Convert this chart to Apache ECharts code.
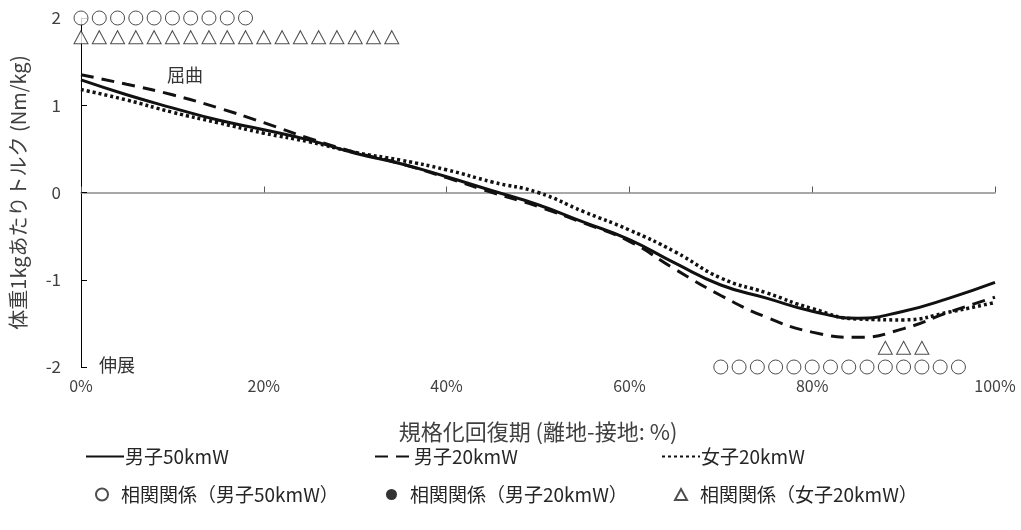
<!DOCTYPE html>
<html>
<head>
<meta charset="utf-8">
<title>規格化回復期トルク</title>
<script src="https://cdn.jsdelivr.net/npm/echarts@6/dist/echarts.min.js"></script>
<style>
  html, body { margin: 0; padding: 0; background: #fff; }
  #main { width: 1021px; height: 530px; }
</style>
</head>
<body>
<div id="main"></div>
<script>
// 規格化回復期 (%)
var phase = [0, 5, 10, 15, 20, 25, 30, 35, 40, 45, 50, 55, 60, 65, 70, 75, 80, 85, 90, 95, 100];
var male50 = [1.29, 1.12, 0.97, 0.83, 0.72, 0.60, 0.45, 0.33, 0.18, 0.02, -0.14, -0.34, -0.54, -0.81, -1.06, -1.21, -1.36, -1.44, -1.36, -1.21, -1.03];
var male20 = [1.35, 1.24, 1.12, 0.97, 0.80, 0.62, 0.46, 0.33, 0.17, 0.00, -0.16, -0.35, -0.56, -0.88, -1.18, -1.43, -1.60, -1.66, -1.56, -1.37, -1.20];
var female20 = [1.18, 1.06, 0.92, 0.80, 0.68, 0.58, 0.46, 0.37, 0.26, 0.12, 0.00, -0.22, -0.43, -0.68, -0.98, -1.15, -1.33, -1.45, -1.46, -1.37, -1.26];

// 相関関係の有意区間 (○: 男子50kmW, △: 女子20kmW)
var circleTop = [0, 2, 4, 6, 8, 10, 12, 14, 16, 18];
var circleBottom = [70, 72, 74, 76, 78, 80, 82, 84, 86, 88, 90, 92, 94, 96];
var triTop = [0, 2, 4, 6, 8, 10, 12, 14, 16, 18, 20, 22, 24, 26, 28, 30, 32, 34];
var triBottom = [88, 90, 92];
var circleTopY = 2, circleBottomY = -2;
var triTopY = 1.78, triBottomY = -1.78;

var xTicks = [0, 20, 40, 60, 80, 100];
var yTicks = [-2, -1, 0, 1, 2];

var FONT = '"Noto Sans CJK JP", "Noto Sans", sans-serif';

function pairs(xs, ys) {
  return xs.map(function (x, i) { return [x, ys[i]]; });
}
function row(xs, y) {
  return xs.map(function (x) { return [x, y]; });
}

var chartDom = document.getElementById('main');
var myChart = echarts.init(chartDom, null, { renderer: 'canvas' });
var option;

function lineLegend(name, left) {
  return {
    data: [name],
    left: left,
    top: 447,
    padding: 0,
    itemWidth: 38,
    itemHeight: 14,
    selectedMode: false,
    itemStyle: { opacity: 0 },
    textStyle: { fontFamily: FONT, fontSize: 19, color: '#262626', padding: [0, 0, 0, -4] }
  };
}
function markLegend(name, left, w, h) {
  return {
    data: [name],
    left: left,
    top: 485,
    padding: 0,
    itemWidth: w,
    itemHeight: h,
    selectedMode: false,
    textStyle: { fontFamily: FONT, fontSize: 19, color: '#262626', padding: [0, 0, 0, 8] }
  };
}

option = {
  animation: false,
  textStyle: { fontFamily: FONT },
  grid: { left: 81, right: 26, top: 18, bottom: 163, containLabel: false },
  legend: [
    lineLegend('男子50kmW', 85),
    lineLegend('男子20kmW', 374),
    lineLegend('女子20kmW', 661),
    markLegend('相関関係（男子50kmW）', 95, 12, 12),
    markLegend('相関関係（男子20kmW）', 386, 11, 14),
    markLegend('相関関係（女子20kmW）', 674, 12, 11)
  ],
  graphic: [
    { type: 'text', left: 167, top: 66, style: { text: '屈曲', font: '18px ' + FONT, fill: '#333' } },
    { type: 'text', left: 99, top: 356, style: { text: '伸展', font: '18px ' + FONT, fill: '#333' } }
  ],
  xAxis: [
    {
      type: 'value',
      position: 'bottom',
      min: xTicks[0],
      max: xTicks[xTicks.length - 1],
      interval: 20,
      axisLine: { show: false, onZero: false },
      axisTick: { show: false },
      splitLine: { show: false },
      axisLabel: { formatter: '{value}%', fontSize: 16, color: '#404040', margin: 11 },
      name: '規格化回復期 (離地-接地: %)',
      nameLocation: 'middle',
      nameGap: 54,
      nameTextStyle: { fontSize: 22, color: '#404040' }
    },
    {
      type: 'value',
      position: 'top',
      min: xTicks[0],
      max: xTicks[xTicks.length - 1],
      interval: 20,
      axisLine: { show: true, onZero: true, lineStyle: { color: '#8c8c8c', width: 1.5 } },
      axisTick: { show: true, length: 6, lineStyle: { color: '#595959', width: 1 } },
      axisLabel: { show: false },
      splitLine: { show: false }
    }
  ],
  yAxis: {
    type: 'value',
    min: yTicks[0],
    max: yTicks[yTicks.length - 1],
    interval: 1,
    axisLine: { show: true, onZero: false, lineStyle: { color: '#000', width: 1 } },
    axisTick: { show: true, inside: true, length: 6, lineStyle: { color: '#000' } },
    splitLine: { show: false },
    axisLabel: { fontSize: 17, color: '#404040', margin: 20 },
    name: '体重1kgあたりトルク (Nm/kg)',
    nameLocation: 'middle',
    nameGap: 53,
    nameRotate: 90,
    nameTextStyle: { fontSize: 20, color: '#404040' }
  },
  series: [
    {
      name: '男子50kmW',
      type: 'line',
      smooth: true,
      symbol: 'none',
      data: pairs(phase, male50),
      lineStyle: { color: '#111', width: 3, type: 'solid' },
      itemStyle: { color: '#111' },
      z: 4
    },
    {
      name: '男子20kmW',
      type: 'line',
      smooth: true,
      symbol: 'none',
      data: pairs(phase, male20),
      lineStyle: { color: '#111', width: 3, type: [13, 8] },
      itemStyle: { color: '#111' },
      z: 3
    },
    {
      name: '女子20kmW',
      type: 'line',
      smooth: true,
      symbol: 'none',
      data: pairs(phase, female20),
      lineStyle: { color: '#111', width: 3.5, type: [3, 3] },
      itemStyle: { color: '#111' },
      z: 3
    },
    {
      name: '相関関係（男子50kmW）',
      type: 'scatter',
      symbol: 'circle',
      symbolSize: 14,
      clip: false,
      data: row(circleTop, circleTopY).concat(row(circleBottom, circleBottomY)),
      itemStyle: { color: '#fff', borderColor: '#222', borderWidth: 1 },
      z: 6
    },
    {
      name: '相関関係（男子20kmW）',
      type: 'scatter',
      symbol: 'circle',
      symbolSize: 14,
      clip: false,
      data: [],
      itemStyle: { color: '#000' },
      z: 6
    },
    {
      name: '相関関係（女子20kmW）',
      type: 'scatter',
      symbol: 'triangle',
      symbolSize: [14, 13],
      clip: false,
      data: row(triTop, triTopY).concat(row(triBottom, triBottomY)),
      itemStyle: { color: '#fff', borderColor: '#222', borderWidth: 1 },
      z: 6
    }
  ]
};

option && myChart.setOption(option);
</script>
</body>
</html>
